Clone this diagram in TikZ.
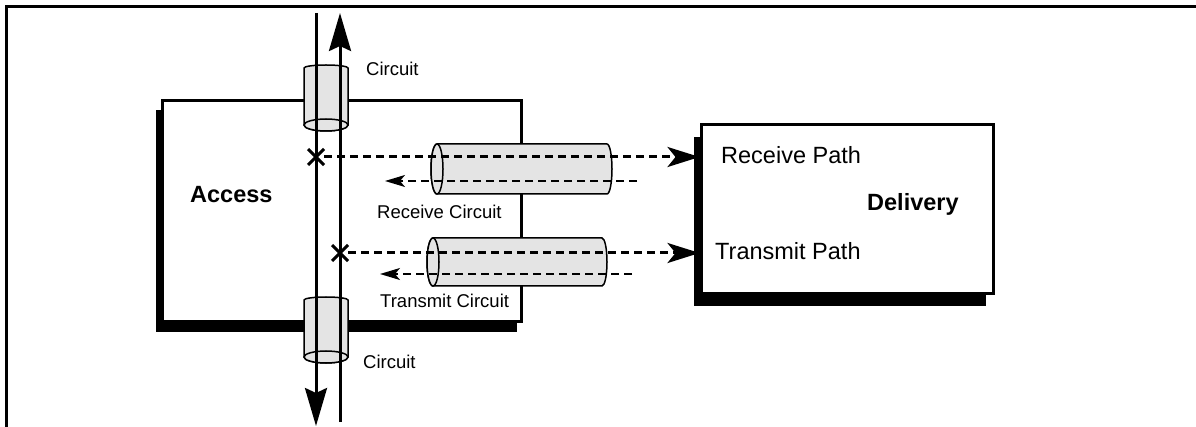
\documentclass[tikz,border=0pt]{standalone}
\usepackage{fontspec}
\setmainfont{Liberation Sans}
\usetikzlibrary{arrows.meta,shapes.misc}
\definecolor{cylgray}{RGB}{228,228,228}
\begin{document}
\begin{tikzpicture}[x=1pt,y=-1pt,
  lbl/.style={inner sep=0pt, anchor=base west, font=\fontsize{18.5}{20}\selectfont},
  biglbl/.style={inner sep=0pt, anchor=base west, font=\fontsize{23.5}{26}\selectfont},
  boldlbl/.style={inner sep=0pt, anchor=base west, font=\fontsize{23.5}{26}\selectfont\bfseries},
  boxnode/.style={draw, line width=3pt, fill=white, inner sep=0pt},
  shadowfill/.style={fill=black},
  cyl/.style={draw, line width=1.5pt, fill=cylgray},
  track/.style={line width=3pt},
  bigtip/.style={-{Stealth[length=38pt,width=22pt,inset=5pt]}},
  dashthick/.style={line width=3pt, dash pattern=on 8pt off 5pt, -{Stealth[length=32pt,width=20pt,inset=8pt]}},
  dashthin/.style={line width=1.5pt, dash pattern=on 8pt off 5pt, -{Stealth[length=20pt,width=12pt,inset=5pt]}},
  xmark/.style={draw, cross out, line width=3pt, minimum size=13pt, inner sep=0pt},
  frameline/.style={line width=3pt}
]
\useasboundingbox (0,0) rectangle (1196,427);
% frame
\draw[frameline] (6,427) -- (6,7) -- (1196,7);
% Access box
\fill[shadowfill] (156,110) rectangle (517,332);
\node[boxnode, minimum width=359pt, minimum height=221pt] (access) at (341.5,211.5) {};
% Delivery box
\fill[shadowfill] (694,137) rectangle (986,306);
\node[boxnode, minimum width=292pt, minimum height=169pt] (delivery) at (847,209.5) {};
% vertical cylinders
\path[cyl] (304,68) arc[start angle=180, end angle=360, x radius=22, y radius=3]
  -- (348,125) arc[start angle=0, end angle=180, x radius=22, y radius=6] -- cycle;
\draw[cyl] (326,125) ellipse[x radius=22, y radius=6];
\path[cyl] (304,300) arc[start angle=180, end angle=360, x radius=22, y radius=3]
  -- (348,357) arc[start angle=0, end angle=180, x radius=22, y radius=6] -- cycle;
\draw[cyl] (326,357) ellipse[x radius=22, y radius=6];
% horizontal cylinders
\path[cyl] (437,144) -- (607,144) arc[start angle=270, end angle=450, x radius=5, y radius=25]
  -- (437,194) arc[start angle=90, end angle=270, x radius=6, y radius=25] -- cycle;
\draw[cyl] (437,169) ellipse[x radius=6, y radius=25];
\path[cyl] (433,238) -- (602,238) arc[start angle=270, end angle=450, x radius=5, y radius=24]
  -- (433,286) arc[start angle=90, end angle=270, x radius=6, y radius=24] -- cycle;
\draw[cyl] (433,262) ellipse[x radius=6, y radius=24];
% vertical tracks
\coordinate (lt) at (316,13);
\coordinate (lb) at (316,426);
\coordinate (rt) at (340,13);
\coordinate (rb) at (340,422);
\draw[track, bigtip] (lt) -- (lb);
\draw[track, bigtip] (rb) -- (rt);
% X marks
\node[xmark] (xr) at (316,157) {};
\node[xmark] (xt) at (340,253) {};
% dashed connectors
\draw[dashthick] (xr) -- (xr -| delivery.west);
\draw[dashthick] (xt) -- (xt -| delivery.west);
\coordinate (rcs) at (637,181);
\coordinate (rce) at (385,181);
\coordinate (tcs) at (632,274);
\coordinate (tce) at (380,274);
\draw[dashthin] (rcs) -- (rce);
\draw[dashthin] (tcs) -- (tce);
% labels
\node[lbl] (ctop) at (366,76) {Circuit};
\node[lbl] (cbot) at (363,368.5) {Circuit};
\node[lbl] (rcl) at (377,219) {Receive Circuit};
\node[lbl] (tcl) at (380,308) {Transmit Circuit};
\node[biglbl] (rpl) at (721,164) {Receive Path};
\node[biglbl] (tpl) at (715,260) {Transmit Path};
\node[boldlbl] (accl) at (190,203) {Access};
\node[boldlbl] (dell) at (867,211) {Delivery};
\end{tikzpicture}
\end{document}
